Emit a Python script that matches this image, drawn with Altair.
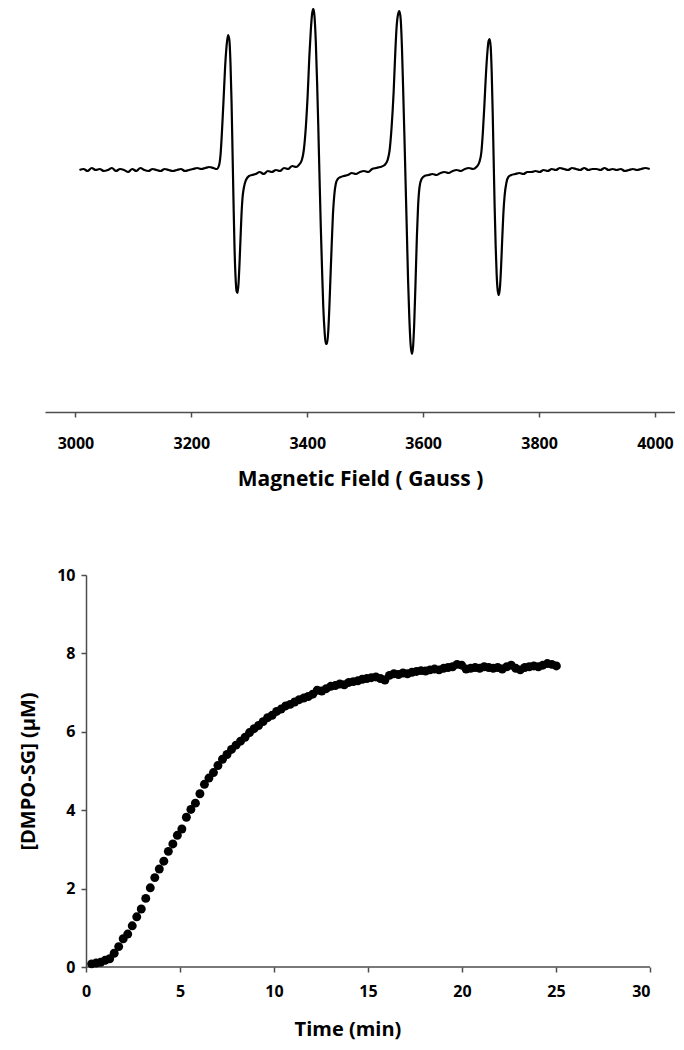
import altair as alt
import pandas as pd

# ---------------- EPR spectrum (top) ----------------
field_gauss = [
    # left baseline
    3007, 3014, 3021, 3028, 3035, 3042, 3049, 3056, 3063, 3070, 3077, 3084,
    3091, 3098, 3105, 3112, 3119, 3126, 3133, 3140, 3147, 3154, 3161, 3168,
    3175, 3182, 3189, 3196, 3203, 3210, 3217, 3224, 3231, 3238,
    # line 1
    3244, 3248, 3250.5, 3253, 3255.6, 3258.2, 3260.8, 3263.3, 3265.6, 3267.6,
    3269.4, 3271.1, 3272.8, 3274.5, 3276.3, 3278, 3279.7, 3281.4, 3283.1,
    3284.9, 3286.6, 3288.3, 3290.9, 3294.3, 3299.5, 3304.7,
    # baseline 1-2
    3311, 3318, 3325, 3332, 3339, 3346, 3353, 3360, 3367, 3374, 3381,
    # line 2
    3385.5, 3390.7, 3394.1, 3397.6, 3401, 3403.6, 3406.2, 3408.4, 3410.5,
    3412.5, 3414.8, 3417, 3419.1, 3421.2, 3423.4, 3425.7, 3427.7, 3430, 3432,
    3434.1, 3436.2, 3438.2, 3440.3, 3442.4, 3444.4, 3446.7, 3449.2, 3452.7,
    3457.8, 3463,
    # baseline 2-3
    3470, 3477, 3484, 3491, 3498, 3505, 3512, 3519, 3526,
    # line 3
    3533.6, 3538.7, 3542.2, 3545.6, 3549.1, 3551.6, 3554.2, 3556.8, 3558.9,
    3561.1, 3563.4, 3565.4, 3567.5, 3569.7, 3572, 3574, 3576.1, 3578.3,
    3580.6, 3582.6, 3584.7, 3586.9, 3589.2, 3591.2, 3593.8, 3597.3, 3602.4,
    3609.3,
    # baseline 3-4
    3616, 3623, 3630, 3637, 3644, 3651, 3658, 3665, 3672, 3679, 3686,
    # line 4
    3691.9, 3697.1, 3700.5, 3703.1, 3705.7, 3708.3, 3710.9, 3712.9, 3714.7,
    3716.6, 3718.3, 3720, 3721.7, 3723.4, 3725.2, 3726.9, 3728.8, 3730.7,
    3732.6, 3734.5, 3736.4, 3738.4, 3740.7, 3743.6, 3747, 3752.2, 3759,
    # right baseline
    3766, 3773, 3780, 3787, 3794, 3801, 3808, 3815, 3822, 3829, 3836, 3843,
    3850, 3857, 3864, 3871, 3878, 3885, 3892, 3899, 3906, 3913, 3920, 3927,
    3934, 3941, 3948, 3955, 3962, 3969, 3976, 3983, 3991,
]
epr_signal = [
    # left baseline
    -1, 0, -2, 1, -1, 0, -2, -1, 1, -2, 0, -1, -3, 0, -2, 1, -1, -2, 0, -1,
    -2, 0, -1, -2, -1, 0, -2, -1, 0, 1, 0, 1, 2, 1,
    # line 1
    0, 4, 15, 39, 69, 101, 123, 134, 129, 105, 67, 17, -33, -78, -108, -122,
    -124, -115, -95, -69, -45, -29, -18, -11, -7, -6,
    # baseline 1-2
    -5, -3, -5, -2, -3, -1, -2, 1, 0, 3, 2,
    # line 2
    4, 9, 19, 42, 77, 112, 139, 155, 160, 153, 127, 87, 42, -8, -58, -103,
    -138, -163, -175, -175, -163, -138, -105, -73, -45, -26, -15, -10, -8, -7,
    # baseline 2-3
    -6, -4, -5, -3, -2, -3, 0, 1, 2,
    # line 3
    4, 9, 19, 42, 77, 112, 142, 155, 158, 151, 122, 82, 37, -13, -65, -111,
    -148, -175, -185, -178, -153, -113, -68, -38, -18, -10, -7, -6,
    # baseline 3-4
    -5, -6, -4, -3, -4, -2, -1, -2, 0, 1, 0,
    # line 4
    2, 7, 17, 37, 64, 94, 117, 128, 130, 122, 97, 57, 9, -38, -78, -106,
    -122, -126, -118, -98, -71, -45, -26, -14, -8, -6, -5,
    # right baseline
    -4, -5, -3, -3, -2, -3, -1, -2, 0, -1, 1, 0, -1, 1, 0, -1, 1, -1, 0, 0,
    -1, 1, -1, 0, -1, 0, -2, -1, 0, -1, 0, 1, 0,
]

# ---------------- DMPO-SG kinetics (bottom) ----------------
time_min = [
    0.30, 0.54, 0.78, 1.02, 1.26, 1.50, 1.74, 1.98, 2.22, 2.46, 2.70, 2.94,
    3.18, 3.42, 3.66, 3.90, 4.14, 4.38, 4.62, 4.86, 5.10, 5.34, 5.58, 5.82,
    6.06, 6.30, 6.54, 6.78, 7.02, 7.26, 7.50, 7.74, 7.98, 8.22, 8.46, 8.70,
    8.94, 9.18, 9.42, 9.66, 9.90, 10.14, 10.38, 10.62, 10.86, 11.10, 11.34,
    11.58, 11.82, 12.06, 12.30, 12.54, 12.78, 13.02, 13.26, 13.50, 13.74,
    13.98, 14.22, 14.46, 14.70, 14.94, 15.18, 15.42, 15.66, 15.90, 16.14,
    16.38, 16.62, 16.86, 17.10, 17.34, 17.58, 17.82, 18.06, 18.30, 18.54,
    18.78, 19.02, 19.26, 19.50, 19.74, 19.98, 20.22, 20.46, 20.70, 20.94,
    21.18, 21.42, 21.66, 21.90, 22.14, 22.38, 22.62, 22.86, 23.10, 23.34,
    23.58, 23.82, 24.06, 24.30, 24.54, 24.78, 25.02,
]
dmpo_sg_uM = [
    0.08, 0.10, 0.12, 0.17, 0.21, 0.35, 0.52, 0.72, 0.84, 1.05, 1.28, 1.48,
    1.75, 2.02, 2.28, 2.50, 2.70, 2.95, 3.14, 3.36, 3.52, 3.82, 4.02, 4.18,
    4.42, 4.66, 4.82, 4.96, 5.14, 5.30, 5.42, 5.55, 5.66, 5.76, 5.86, 5.98,
    6.08, 6.16, 6.26, 6.36, 6.42, 6.52, 6.58, 6.66, 6.70, 6.76, 6.82,
    6.86, 6.90, 6.96, 7.06, 7.04, 7.10, 7.16, 7.18, 7.22, 7.20,
    7.26, 7.28, 7.30, 7.34, 7.36, 7.38, 7.40, 7.36, 7.32, 7.44,
    7.48, 7.46, 7.50, 7.48, 7.52, 7.54, 7.56, 7.55, 7.58, 7.60,
    7.58, 7.62, 7.64, 7.66, 7.72, 7.70, 7.60, 7.62, 7.64, 7.62,
    7.66, 7.64, 7.62, 7.64, 7.60, 7.66, 7.70, 7.62, 7.58, 7.64,
    7.66, 7.68, 7.66, 7.70, 7.74, 7.72, 7.68,
]

x_ticks_top = [3000, 3200, 3400, 3600, 3800, 4000]
x_ticks_bottom = [0, 5, 10, 15, 20, 25, 30]
y_ticks_bottom = [0, 2, 4, 6, 8, 10]

FONT = "Open Sans"
AXIS_COLOR = "#4d4d4d"

epr = pd.DataFrame({"field": field_gauss, "signal": epr_signal})
kin = pd.DataFrame({"t": time_min, "c": dmpo_sg_uM})
xline = pd.DataFrame({"x0": [x_ticks_bottom[0]], "x1": [x_ticks_bottom[-1]], "y": [0]})

top = alt.Chart(epr).mark_line(color="black", strokeWidth=2.2, interpolate="monotone").encode(
    x=alt.X("field:Q",
            scale=alt.Scale(domain=[2947.5, 4034.6], nice=False, zero=False),
            axis=alt.Axis(values=x_ticks_top, title="Magnetic Field ( Gauss )",
                          grid=False, tickSize=5, labelPadding=18, titlePadding=17,
                          labelFontSize=16, titleFontSize=21, format="d")),
    y=alt.Y("signal:Q", scale=alt.Scale(domain=[-243, 160], nice=False, zero=False),
            axis=None),
).properties(width=630, height=403)

pts = alt.Chart(kin).mark_circle(color="black", size=80, opacity=1).encode(
    x=alt.X("t:Q", scale=alt.Scale(domain=[-2.18, 30], nice=False, zero=False),
            axis=alt.Axis(values=x_ticks_bottom, title="Time (min)", grid=False,
                          domain=False, tickSize=5, labelPadding=11, titlePadding=20,
                          labelFontSize=16, titleFontSize=20)),
    y=alt.Y("c:Q", scale=alt.Scale(domain=[0, 10], nice=False),
            axis=alt.Axis(values=y_ticks_bottom, title="[DMPO-SG] (µM)", grid=False,
                          offset=-41, tickSize=5, labelPadding=6, titlePadding=18,
                          labelFontSize=16, titleFontSize=20)),
)
base_rule = alt.Chart(xline).mark_rule(color=AXIS_COLOR, strokeWidth=1.5).encode(
    x="x0:Q", x2="x1:Q", y="y:Q"
)
bottom = alt.layer(base_rule, pts).properties(width=605, height=392)

chart = alt.vconcat(top, bottom, spacing=78).properties(
    padding={"left": 10, "top": -4, "right": 0, "bottom": 4}
).configure_view(stroke=None).configure_axis(
    labelFont=FONT, titleFont=FONT, labelFontWeight="bold", titleFontWeight="bold",
    labelColor="black", titleColor="black", domainColor=AXIS_COLOR, tickColor=AXIS_COLOR,
    domainWidth=1.5, tickWidth=1.5,
)

chart.save("out.html", embed_options={"renderer": "svg", "actions": False})
